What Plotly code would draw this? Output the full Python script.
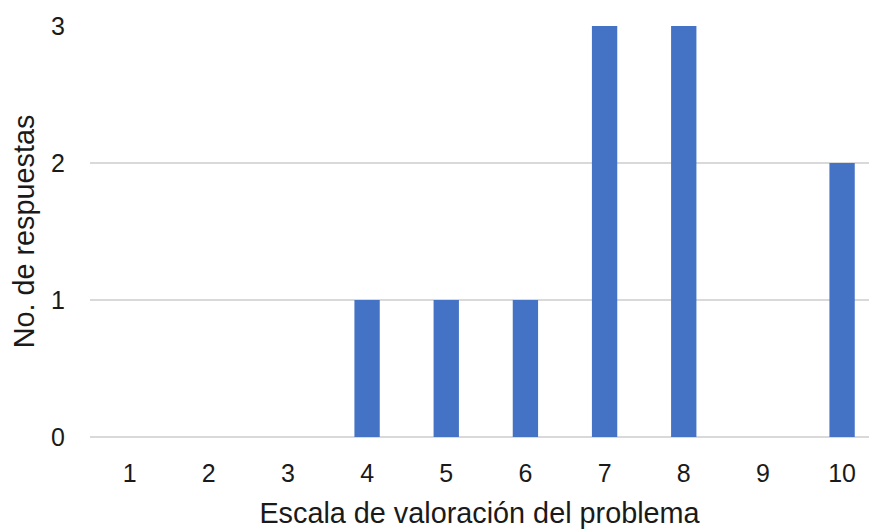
import plotly.graph_objects as go

categories = [1, 2, 3, 4, 5, 6, 7, 8, 9, 10]
respuestas = [0, 0, 0, 1, 1, 1, 3, 3, 0, 2]
y_ticks = [0, 1, 2, 3]

fig = go.Figure(go.Bar(x=categories, y=respuestas, width=0.32,
                       marker=dict(color="#4472C4", line=dict(width=0))))

fam = "Liberation Sans, Arial, sans-serif"
tick_font = dict(family=fam, size=25, color="#1a1a1a")
title_font = dict(family=fam, size=28.8, color="#1a1a1a")
fig.update_layout(
    width=869, height=529, autosize=False,
    margin=dict(l=90, r=0, t=26, b=92, autoexpand=False),
    paper_bgcolor="white", plot_bgcolor="white",
    font=tick_font, showlegend=False,
    xaxis=dict(range=[0.5, 10.34], tickvals=categories, ticktext=[str(c) for c in categories],
               showgrid=False, zeroline=False, showline=False, ticks="",
               tickfont=tick_font, ticklabelstandoff=19,
               title=dict(text="Escala de valoración del problema", standoff=19, font=title_font)),
    yaxis=dict(range=[0, 3], tickvals=y_ticks, showgrid=True, gridcolor="#D9D9D9", gridwidth=1.5,
               zeroline=True, zerolinecolor="#D9D9D9", zerolinewidth=1.5,
               showline=False, ticks="", tickfont=tick_font, ticklabelstandoff=24,
               title=dict(text="No. de respuestas", standoff=8, font=title_font)),
)
fig.write_html("out.html", config={"displayModeBar": False},
               post_script="document.body.style.margin='0';document.body.style.overflow='hidden';")
